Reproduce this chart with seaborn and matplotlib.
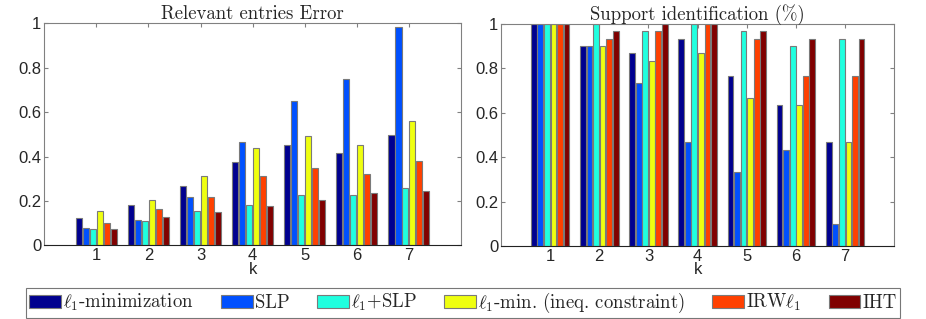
import numpy as np
import pandas as pd
import matplotlib
matplotlib.use("Agg")
import matplotlib.pyplot as plt
import seaborn as sns
from matplotlib.patches import Patch

sns.set_theme(style="white")
plt.rcParams.update({
    'font.family': ['Liberation Sans', 'DejaVu Sans'],
    'font.size': 12,
    'mathtext.fontset': 'cm',
})

# data
k_values = [1, 2, 3, 4, 5, 6, 7]
methods = [r'$\ell_1$-minimization', 'SLP', r'$\ell_1$+SLP',
           r'$\ell_1$-min. (ineq. constraint)', r'IRW$\ell_1$', 'IHT']
colors = ['#00008F', '#0050FF', '#20FFDF', '#EFFF10', '#FF4000', '#800000']

err_l1 = [0.123, 0.180, 0.266, 0.375, 0.452, 0.417, 0.497]
err_slp = [0.078, 0.114, 0.216, 0.464, 0.650, 0.748, 0.985]
err_l1slp = [0.072, 0.110, 0.153, 0.180, 0.225, 0.225, 0.257]
err_l1ineq = [0.153, 0.204, 0.311, 0.437, 0.491, 0.452, 0.559]
err_irw = [0.099, 0.162, 0.218, 0.312, 0.348, 0.323, 0.380]
err_iht = [0.074, 0.128, 0.152, 0.176, 0.204, 0.234, 0.245]

sup_l1 = [1.0, 0.900, 0.867, 0.933, 0.767, 0.633, 0.467]
sup_slp = [1.0, 0.900, 0.733, 0.467, 0.333, 0.433, 0.100]
sup_l1slp = [1.0, 1.0, 0.967, 1.0, 0.967, 0.900, 0.933]
sup_l1ineq = [1.0, 0.900, 0.833, 0.867, 0.667, 0.633, 0.467]
sup_irw = [1.0, 0.933, 0.967, 1.0, 0.933, 0.767, 0.767]
sup_iht = [1.0, 0.967, 1.0, 1.0, 0.967, 0.933, 0.933]

err_series = [err_l1, err_slp, err_l1slp, err_l1ineq, err_irw, err_iht]
sup_series = [sup_l1, sup_slp, sup_l1slp, sup_l1ineq, sup_irw, sup_iht]


def to_long(series):
    rows = []
    for name, vals in zip(methods, series):
        for k, v in zip(k_values, vals):
            rows.append({'k': k, 'method': name, 'value': v})
    return pd.DataFrame(rows)


serif = ['cmr10', 'DejaVu Serif']
palette = dict(zip(methods, colors))

fig = plt.figure(figsize=(9.26, 3.19), dpi=100)
ax1 = fig.add_axes([0.0478, 0.231, 0.450, 0.696])
ax2 = fig.add_axes([0.541, 0.229, 0.4248, 0.696])

for ax, series, title in [(ax1, err_series, 'Relevant entries Error'),
                          (ax2, sup_series, 'Support identification (%)')]:
    df = to_long(series)
    sns.barplot(data=df, x='k', y='value', hue='method', hue_order=methods,
                palette=palette, width=0.8, gap=0.12, errorbar=None,
                edgecolor='#7a7a7a', linewidth=0.8, saturation=1,
                legend=False, ax=ax)
    ax.set_xlim(-1, 7)
    ax.set_ylim(0, 1)
    ax.set_yticks([0, 0.2, 0.4, 0.6, 0.8, 1.0])
    ax.set_yticklabels(['0', '0.2', '0.4', '0.6', '0.8', '1'])
    ax.set_xlabel('k', fontsize=12, labelpad=-1)
    ax.set_ylabel('')
    ax.set_title(title, family=serif, fontsize=13.5, pad=3)
    for side in ['top', 'left', 'right']:
        ax.spines[side].set_color('#808080')
        ax.spines[side].set_linewidth(0.8)
    ax.spines['bottom'].set_color('#222222')
    ax.spines['bottom'].set_linewidth(0.8)
    ax.tick_params(direction='in', length=3, width=0.8, color='#808080',
                   top=True, right=True, bottom=True, left=True,
                   labelsize=12, pad=2)

handles = [Patch(facecolor=c, edgecolor='#7a7a7a', linewidth=0.8) for c in colors]
leg = fig.legend(handles, methods, loc='lower center', ncol=6,
                 bbox_to_anchor=(0.5, 0.004), borderaxespad=0, frameon=True,
                 prop={'family': serif, 'size': 13.5},
                 handlelength=1.7, handleheight=0.65, handletextpad=0.12,
                 columnspacing=1.45, borderpad=0.15, fancybox=False)
leg.get_frame().set_edgecolor('#555555')
leg.get_frame().set_linewidth(0.8)

fig.savefig('out.png', dpi=100)
